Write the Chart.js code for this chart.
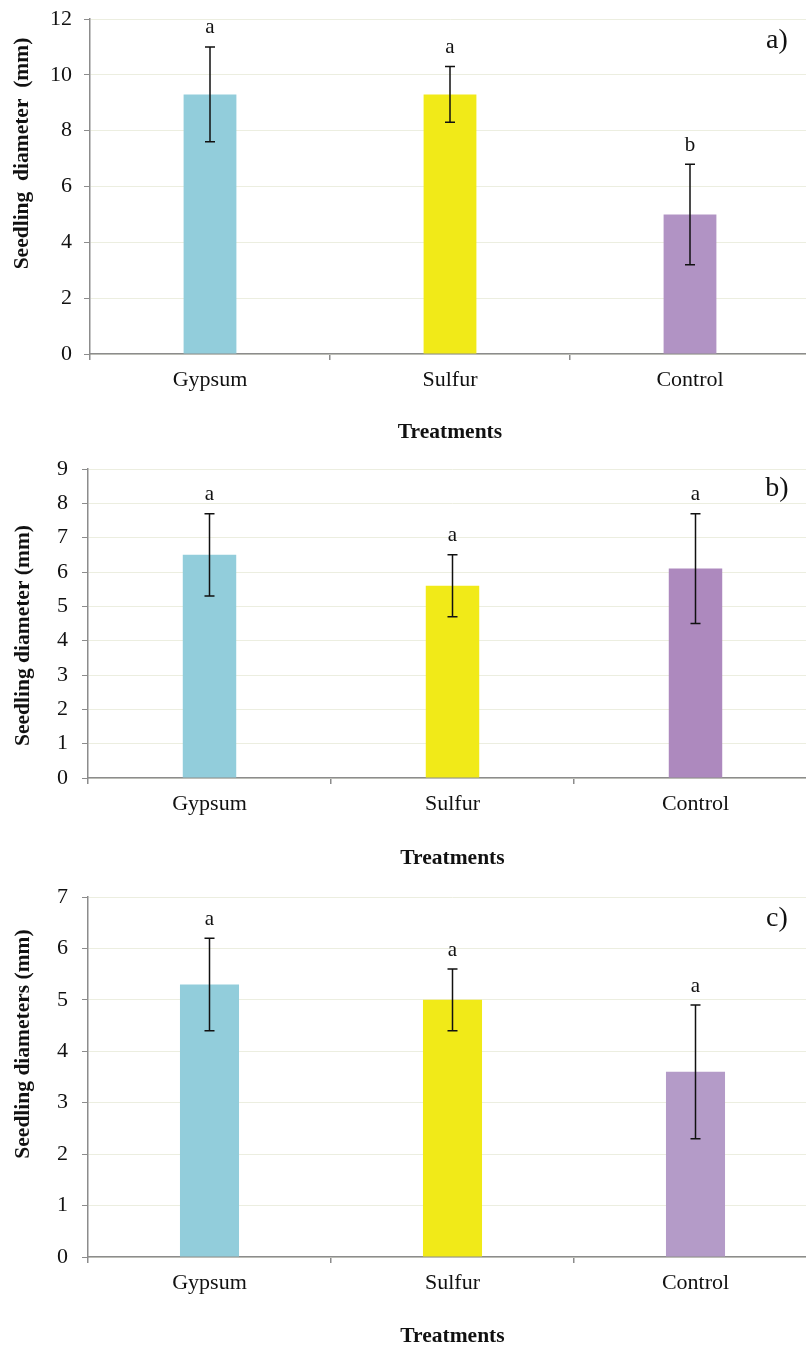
<!DOCTYPE html>
<html>
<head>
<meta charset="utf-8">
<script src="https://cdn.jsdelivr.net/npm/chart.js"></script>
<style>
    html, body { margin: 0; padding: 0; background: #fff; width: 806px; height: 1347px; overflow: hidden; }
    .panel { position: absolute; left: 0; }
</style>
</head>
<body>
<div class="panel" style="top:0"><canvas id="chartA" width="820" height="450"></canvas></div>
<div class="panel" style="top:450px"><canvas id="chartB" width="820" height="430"></canvas></div>
<div class="panel" style="top:880px"><canvas id="chartC" width="820" height="480"></canvas></div>
<script>
const treatments = ["Gypsum", "Sulfur", "Control"];

// a) seedling diameter
const meanA = [9.3, 9.3, 5.0];
const lowA = [7.6, 8.3, 3.2];
const highA = [11.0, 10.3, 6.8];
const lettersA = ["a", "a", "b"];

// b)
const meanB = [6.5, 5.6, 6.1];
const lowB = [5.3, 4.7, 4.5];
const highB = [7.7, 6.5, 7.7];
const lettersB = ["a", "a", "a"];

// c)
const meanC = [5.3, 5.0, 3.6];
const lowC = [4.4, 4.4, 2.3];
const highC = [6.2, 5.6, 4.9];
const lettersC = ["a", "a", "a"];

const SERIF = "'Liberation Serif', 'Times New Roman', serif";
const AXIS = "#8c8c8c";
const GRID = "#eceee0";

// error bars, significance letters, panel tag and rotated y title
const extras = {
    id: "extras",
    afterDatasetsDraw(chart, args, o) {
        const ctx = chart.ctx, y = chart.scales.y, area = chart.chartArea;
        const bars = chart.getDatasetMeta(0).data;
        ctx.save();
        ctx.strokeStyle = "#111";
        ctx.fillStyle = "#111";
        ctx.lineWidth = 1.5;
        bars.forEach((bar, i) => {
            const t = y.getPixelForValue(o.high[i]);
            const b = y.getPixelForValue(o.low[i]);
            ctx.beginPath();
            ctx.moveTo(bar.x, t); ctx.lineTo(bar.x, b);
            ctx.moveTo(bar.x - 5, t); ctx.lineTo(bar.x + 5, t);
            ctx.moveTo(bar.x - 5, b); ctx.lineTo(bar.x + 5, b);
            ctx.stroke();
            ctx.font = "21px " + SERIF;
            ctx.textAlign = "center";
            ctx.textBaseline = "middle";
            ctx.fillText(o.letters[i], bar.x, t - 19);
        });
        ctx.font = "28px " + SERIF;
        ctx.textAlign = "center";
        ctx.fillText(o.tag, 777, area.top + o.tagDy);

        ctx.translate(o.titleX, (area.top + area.bottom) / 2 + o.titleDy);
        ctx.rotate(-Math.PI / 2);
        ctx.font = "bold 21.5px " + SERIF;
        ctx.fillText(o.title, 0, 0);
        ctx.restore();
    }
};

function makePanel(id, p) {
    const canvas = document.getElementById(id);
    const H = canvas.height, W = canvas.width;
    return new Chart(canvas, {
        type: "bar",
        data: {
            labels: treatments,
            datasets: [{
                data: p.mean,
                backgroundColor: p.colors,
                borderWidth: 0,
                barPercentage: p.barPct,
                categoryPercentage: 1
            }]
        },
        plugins: [extras],
        options: {
            responsive: false,
            animation: false,
            events: [],
            layout: { padding: { top: p.top, right: W - p.right, bottom: 0, left: 0 } },
            plugins: {
                legend: { display: false },
                tooltip: { enabled: false },
                extras: {
                    high: p.high, low: p.low, letters: p.letters,
                    tag: p.tag, tagDy: p.tagDy,
                    title: p.yTitle, titleX: p.titleX, titleDy: p.titleDy
                }
            },
            scales: {
                x: {
                    afterFit: s => { s.height = H - p.bottom; },
                    grid: { offset: true, drawOnChartArea: false, tickLength: 6, tickColor: AXIS, lineWidth: 1.5 },
                    border: { color: AXIS, width: 1.5 },
                    ticks: { color: "#111", font: { family: SERIF, size: 22 }, padding: 7 },
                    title: {
                        display: true, text: "Treatments", color: "#111",
                        font: { family: SERIF, size: 21.5, weight: "bold" },
                        padding: { top: 0, bottom: p.xTitlePad }
                    }
                },
                y: {
                    min: 0, max: p.max,
                    afterFit: s => { s.width = p.left; s.paddingTop = 0; s.paddingBottom = 0; },
                    grid: { color: GRID, lineWidth: 1, tickLength: 6, tickColor: AXIS },
                    border: { color: AXIS, width: 1.5 },
                    ticks: { stepSize: p.step, color: "#111", font: { family: SERIF, size: 22 }, padding: p.tickPad }
                }
            }
        }
    });
}

makePanel("chartA", {
    mean: meanA, low: lowA, high: highA, letters: lettersA,
    colors: ["#92cddb", "#f1ea18", "#b193c4"],
    max: 12, step: 2, barPct: 0.22,
    top: 19, bottom: 354, left: 90, right: 810,
    tickPad: 12, xTitlePad: 5, tag: "a)", tagDy: 22,
    yTitle: "Seedling  diameter  (mm)", titleX: 22, titleDy: -33
});

makePanel("chartB", {
    mean: meanB, low: lowB, high: highB, letters: lettersB,
    colors: ["#92cddb", "#f1ea18", "#ad89be"],
    max: 9, step: 1, barPct: 0.22,
    top: 19, bottom: 328, left: 88, right: 817,
    tickPad: 14, xTitlePad: 9, tag: "b)", tagDy: 20,
    yTitle: "Seedling diameter (mm)", titleX: 23, titleDy: 12
});

makePanel("chartC", {
    mean: meanC, low: lowC, high: highC, letters: lettersC,
    colors: ["#92cddb", "#f1ea18", "#b49bc8"],
    max: 7, step: 1, barPct: 0.243,
    top: 17, bottom: 377, left: 88, right: 817,
    tickPad: 14, xTitlePad: 11, tag: "c)", tagDy: 22,
    yTitle: "Seedling diameters (mm)", titleX: 23, titleDy: -33
});
</script>
</body>
</html>
